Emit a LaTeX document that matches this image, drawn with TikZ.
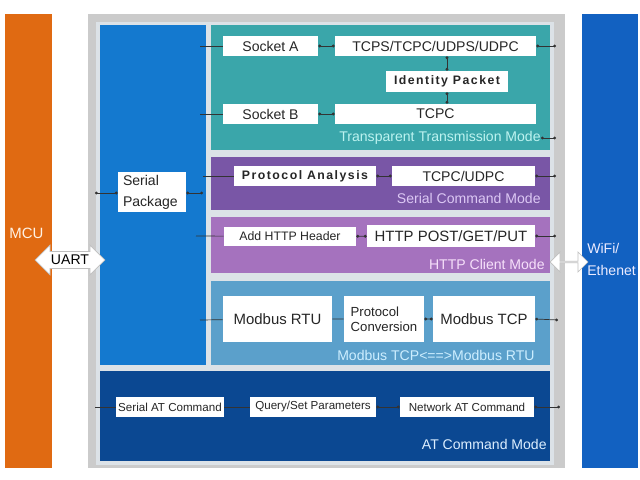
\documentclass[tikz,border=0pt]{standalone}
\usepackage{fontspec}
\setmainfont{Liberation Sans}
\usepackage{tikz}
\usetikzlibrary{arrows.meta,shapes.arrows}

\definecolor{mcuorange}{HTML}{E06A12}
\definecolor{framegray}{HTML}{CBCBCB}
\definecolor{panelgray}{HTML}{DCE2E7}
\definecolor{colblue}{HTML}{1479CF}
\definecolor{transteal}{HTML}{3AA6AA}
\definecolor{cmdpurple}{HTML}{7956A6}
\definecolor{httppurple}{HTML}{A572BE}
\definecolor{modbusblue}{HTML}{5BA0CB}
\definecolor{atnavy}{HTML}{0B4892}
\definecolor{wifiblue}{HTML}{1261C1}
\definecolor{transtext}{HTML}{BDF3F0}
\definecolor{cmdtext}{HTML}{DCC8F4}
\definecolor{httptext}{HTML}{F6E0FA}
\definecolor{modbustext}{HTML}{CDEEFF}
\definecolor{attext}{HTML}{DCEEFF}

\begin{document}
\begin{tikzpicture}[x=0.02cm, y=-0.02cm,
    block/.style={inner sep=0pt, outer sep=0pt},
    box/.style={fill=white, inner sep=0pt, minimum height=0.4cm, text=black!85, font=\fontsize{8}{9.6}\selectfont},
    smallbox/.style={box, font=\fontsize{6.6}{8}\selectfont},
    spacedbox/.style={box, font=\fontsize{7}{8}\selectfont\bfseries\addfontfeatures{LetterSpace=12}},
    modetext/.style={anchor=east, inner sep=0pt, font=\fontsize{8}{9.6}\selectfont},
    link/.style={thin, black!80, {Circle[length=1.6pt]}-{Circle[length=1.6pt]}},
    dblarrow/.style={double arrow, fill=white, draw=black!25, inner sep=0pt, double arrow head extend=0.08cm}]
    \useasboundingbox[fill=white] (0,0) rectangle (640,480);

    % side bars and frame
    \node[block, fill=mcuorange, minimum width=0.94cm, minimum height=9.08cm] (mcu) at (28.5,241) {};
    \node[anchor=west, inner sep=0pt, text=white!90!orange, font=\fontsize{8.5}{10}\selectfont] (mcutext) at (9,233) {MCU};
    \node[block, fill=wifiblue, minimum width=1.12cm, minimum height=9.08cm] (wifi) at (610,241) {};
    \node[anchor=west, inner sep=0pt, align=left, text=white!92!blue, font=\fontsize{8}{12.5}\selectfont] (wifitext) at (587,259) {WiFi/\\Ethenet};
    \node[block, fill=framegray, minimum width=9.54cm, minimum height=9.08cm] (frame) at (326.5,241) {};
    \node[block, fill=panelgray, minimum width=9.16cm, minimum height=8.88cm] (panel) at (325,243.5) {};

    % mode blocks
    \node[block, fill=colblue, minimum width=2.12cm, minimum height=6.8cm] (column) at (153,195) {};
    \node[block, fill=transteal, minimum width=6.78cm, minimum height=2.5cm] (trans) at (380.5,87.5) {};
    \node[block, fill=cmdpurple, minimum width=6.78cm, minimum height=1.06cm] (sercmd) at (380.5,183.5) {};
    \node[block, fill=httppurple, minimum width=6.78cm, minimum height=1.12cm] (http) at (380.5,245) {};
    \node[block, fill=modbusblue, minimum width=6.78cm, minimum height=1.68cm] (modbus) at (380.5,323) {};
    \node[block, fill=atnavy, minimum width=9cm, minimum height=1.8cm] (atmode) at (325,416) {};

    % transparent transmission
    \node[box, minimum width=1.9cm] (sockA) at (270.5,46) {Socket A};
    \node[box, minimum width=4.02cm] (tcps) at (435.5,46) {TCPS/TCPC/UDPS/UDPC};
    \node[spacedbox, minimum width=2.44cm, minimum height=0.42cm] (ident) at (447,81.5) {Identity Packet};
    \node[box, minimum width=1.9cm] (sockB) at (270.5,114) {Socket B};
    \node[box, minimum width=4.02cm] (tcpc) at (435.5,114) {TCPC};
    \node[modetext, text=transtext] (transmode) at (541,138) {Transparent Transmission Mode};

    % serial command
    \node[box, minimum width=1.36cm, minimum height=0.8cm, text width=1.16cm, inner xsep=0.1cm, align=left, font=\fontsize{8}{12}\selectfont] (serpkg) at (152,192) {Serial\\Package};
    \node[spacedbox, minimum width=2.84cm] (proto) at (305,176) {Protocol Analysis};
    \node[box, minimum width=2.86cm] (tcpudp) at (463.5,176) {TCPC/UDPC};
    \node[modetext, text=cmdtext] (cmdmode) at (541,198) {Serial Command Mode};

    % http client
    \node[smallbox, minimum width=2.64cm, minimum height=0.38cm, font=\fontsize{7}{8}\selectfont] (addhttp) at (290,236.5) {Add HTTP Header};
    \node[box, minimum width=3.36cm, minimum height=0.44cm, font=\fontsize{8.5}{10}\selectfont] (httppost) at (451,236) {HTTP POST/GET/PUT};
    \node[modetext, text=httptext] (httpmode) at (545,264) {HTTP Client Mode};

    % modbus
    \node[box, minimum width=2.18cm, minimum height=0.92cm, font=\fontsize{8.5}{10}\selectfont] (rtu) at (277.5,319) {Modbus RTU};
    \node[box, minimum width=1.6cm, minimum height=0.92cm, align=left, font=\fontsize{7.5}{8.5}\selectfont] (conv) at (384,319) {Protocol\\Conversion};
    \node[box, minimum width=2.04cm, minimum height=0.92cm, font=\fontsize{8.5}{10}\selectfont] (mtcp) at (484,319) {Modbus TCP};
    \node[modetext, text=modbustext] (modbusmode) at (535,355) {Modbus TCP<==>Modbus RTU};

    % at command
    \node[smallbox, minimum width=2.16cm] (seratc) at (170,407) {Serial AT Command};
    \node[smallbox, minimum width=2.52cm] (query) at (313,407) {Query/Set Parameters};
    \node[smallbox, minimum width=2.68cm] (netat) at (467,407) {Network AT Command};
    \node[modetext, text=attext] (atlabel) at (547,444) {AT Command Mode};

    % interfaces
    \node[dblarrow, minimum height=1.4cm, minimum width=0.6cm, font=\fontsize{8}{9.6}\selectfont] (uart) at (70,260) {UART};
    \node[dblarrow, minimum height=0.76cm, minimum width=0.4cm] (wlink) at (569,262) {};

    % free ends
    \coordinate (inA) at (200,46);
    \coordinate (outA) at (556,46);
    \coordinate (inB) at (200,114);
    \coordinate (outT) at (556,138);
    \coordinate (inP) at (203,176);
    \coordinate (outP) at (556,176);
    \coordinate (pkgR) at (203,193);
    \coordinate (pkgL) at (95,193);
    \coordinate (inH) at (196,236);
    \coordinate (outH) at (556,236);
    \coordinate (inM) at (200,320);
    \coordinate (outM) at (558,320);
    \coordinate (atL) at (95,407);
    \coordinate (atR) at (560,407);

    \draw[link] (inA) to (sockA) to (tcps);
    \draw[link] (tcps.east) to (outA);
    \draw[link] (ident.north |- tcps.south) to (ident.north);
    \draw[link] (ident.south) to (ident.south |- tcpc.north);
    \draw[link] (inB) to (sockB) to (tcpc);
    \draw[link] (transmode.east) to (outT);
    \draw[link] (inP) to (proto) to (tcpudp);
    \draw[link] (tcpudp.east) to (outP);
    \draw[link] (serpkg.east |- pkgR) to (pkgR);
    \draw[link] (serpkg.west |- pkgL) to (pkgL);
    \draw[link] (inH) to (addhttp) to (httppost);
    \draw[link] (httppost.east) to (outH);
    \draw[link] (inM) to (rtu) to (conv) to (mtcp);
    \draw[link] (mtcp.east) to (outM);
    \draw[link] (atL) to (seratc) to (query) to (netat);
    \draw[link] (netat.east) to (atR);
\end{tikzpicture}
\end{document}
